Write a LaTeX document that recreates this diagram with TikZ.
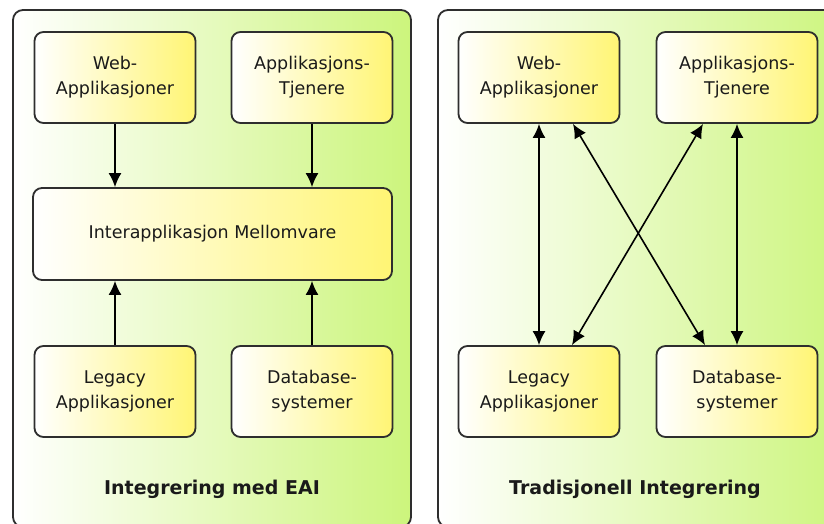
\documentclass[tikz,border=0pt]{standalone}
\usepackage{fontspec}
\setmainfont{DejaVu Sans}
\usetikzlibrary{arrows.meta}
\definecolor{panelgreen}{HTML}{CCF57C}
\definecolor{boxyellow}{HTML}{FFF574}
\definecolor{edgegray}{HTML}{2E2E2E}
\definecolor{inkdark}{HTML}{1A1A1A}
\tikzset{
  panel/.style={draw=edgegray, line width=1.8pt, rounded corners=10pt,
    left color=white, right color=panelgreen},
  appbox/.style={draw=edgegray, line width=1.8pt, rounded corners=9pt,
    left color=white, right color=boxyellow, shading angle=90,
    minimum width=161pt, minimum height=91pt, inner sep=0pt,
    align=center, text=inkdark, font=\fontsize{17.5}{25}\selectfont},
  widebox/.style={appbox, minimum width=359pt, minimum height=92pt},
  caption/.style={text=inkdark, font=\bfseries\fontsize{19}{23}\selectfont},
  arr/.style={-{Latex[length=14pt,width=13pt]}, line width=1.6pt, draw=black},
  darr/.style={{Latex[length=14pt,width=13pt]}-{Latex[length=14pt,width=13pt]}, line width=1.6pt, draw=black}
}
\begin{document}
\begin{tikzpicture}[x=1pt,y=-1pt]
\useasboundingbox (0,0) rectangle (824,523);
\fill[white] (0,0) rectangle (824,523);

% two panels, the right one runs past the page edge
\draw[panel] (13,10) rectangle (411,527);
\draw[panel] (438,10) rectangle (850,527);

% --- EAI integration ---
\node[appbox] (lweb) at (115,77.5) {Web-\\Applikasjoner};
\node[appbox] (lapp) at (312,77.5) {Applikasjons-\\Tjenere};
\node[widebox] (lmid) at (212.5,234) {Interapplikasjon Mellomvare};
\node[appbox] (lleg) at (115,391.5) {Legacy\\Applikasjoner};
\node[appbox] (ldb) at (312,391.5) {Database-\\systemer};
\node[caption] (lcap) at (212,489) {Integrering med EAI};

\draw[arr] (lweb.south) -- (lweb.south |- lmid.north);
\draw[arr] (lapp.south) -- (lapp.south |- lmid.north);
\draw[arr] (lleg.north) -- (lleg.north |- lmid.south);
\draw[arr] (ldb.north) -- (ldb.north |- lmid.south);

% --- traditional integration ---
\node[appbox] (rweb) at (539,77.5) {Web-\\Applikasjoner};
\node[appbox] (rapp) at (737,77.5) {Applikasjons-\\Tjenere};
\node[appbox] (rleg) at (539,391.5) {Legacy\\Applikasjoner};
\node[appbox] (rdb) at (737,391.5) {Database-\\systemer};
\node[caption] (rcap) at (635,489) {Tradisjonell Integrering};

\draw[darr] (rweb.south) -- (rleg.north);
\draw[darr] (rapp.south) -- (rdb.north);
\draw[darr] ([xshift=34pt]rweb.south) -- ([xshift=-32pt]rdb.north);
\draw[darr] ([xshift=-34pt]rapp.south) -- ([xshift=33pt]rleg.north);
\end{tikzpicture}
\end{document}
